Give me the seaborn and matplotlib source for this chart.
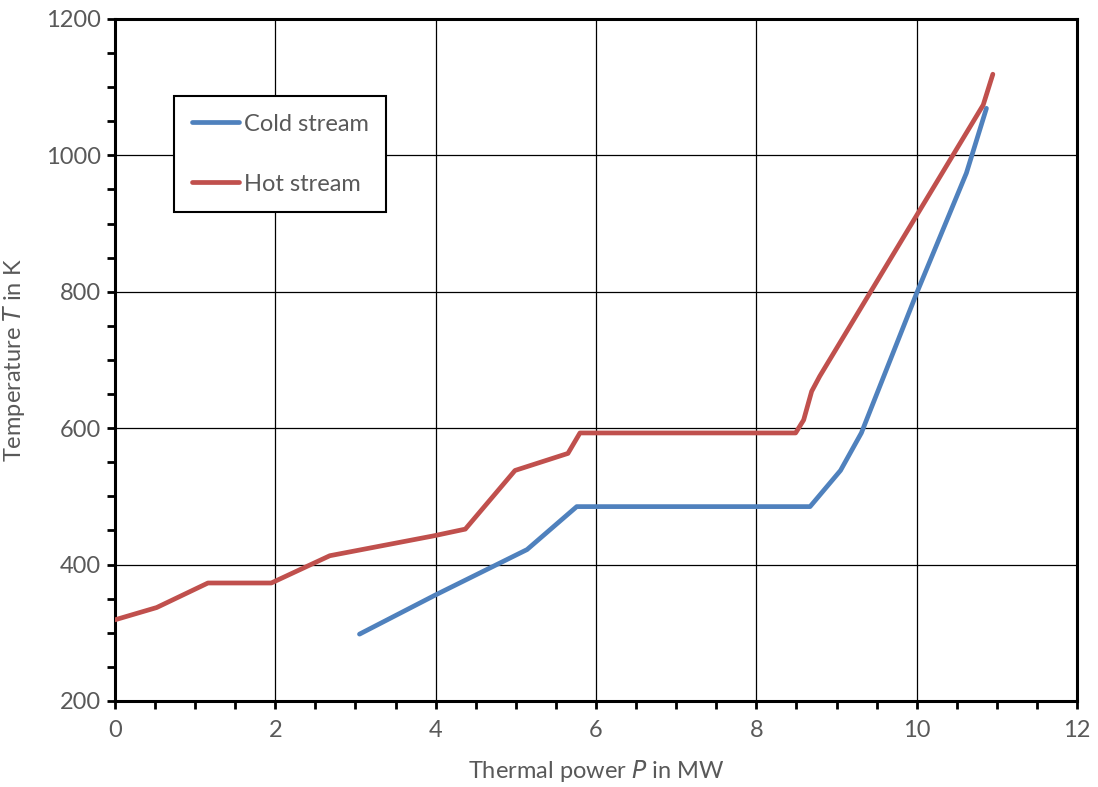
import pandas as pd
import seaborn as sns
import matplotlib.pyplot as plt
from matplotlib.ticker import MultipleLocator

# Cold stream (blue)
cold_p = [3.05, 3.99, 5.14, 5.76, 8.67, 9.05, 9.31, 10.0, 10.62, 10.87]
cold_t = [298, 355, 422, 485, 485, 538, 593, 798, 974, 1069]

# Hot stream (red)
hot_p = [0.0, 0.52, 1.16, 1.95, 2.68, 3.97, 4.37, 4.99, 5.65, 5.80, 8.49, 8.59, 8.69, 8.79, 10.83, 10.95]
hot_t = [319, 337, 373, 373, 413, 442, 452, 538, 563, 593, 593, 612, 654, 676, 1074, 1119]

def display_plot():
    df = pd.concat([
        pd.DataFrame({"P": cold_p, "T": cold_t, "stream": "Cold stream"}),
        pd.DataFrame({"P": hot_p, "T": hot_t, "stream": "Hot stream"}),
    ], ignore_index=True)

    sns.set_style("white")
    plt.rcParams["font.family"] = ["Lato", "DejaVu Sans"]
    grey = "#595959"

    fig = plt.figure(figsize=(10.98, 7.87), dpi=100)
    ax = fig.add_axes([0.1047, 0.1093, 0.8762, 0.8666])

    sns.lineplot(data=df, x="P", y="T", hue="stream", sort=False, estimator=None,
                 palette={"Cold stream": "#4F81BD", "Hot stream": "#C0504D"},
                 linewidth=3.4, ax=ax, zorder=3)

    ax.set_xlim(0, 12)
    ax.set_ylim(200, 1200)
    ax.xaxis.set_major_locator(MultipleLocator(2))
    ax.xaxis.set_minor_locator(MultipleLocator(0.5))
    ax.yaxis.set_major_locator(MultipleLocator(200))
    ax.yaxis.set_minor_locator(MultipleLocator(50))
    ax.grid(True, which="major", color="black", linewidth=0.9)

    for s in ax.spines.values():
        s.set_visible(True)
        s.set_color("black")
        s.set_linewidth(2.2)

    ax.tick_params(which="both", direction="out", length=6, width=2, color="black",
                   bottom=True, left=True, labelsize=17, labelcolor=grey)
    ax.tick_params(axis="x", pad=8)
    ax.tick_params(axis="y", pad=4)

    ax.set_xlabel("Thermal power $\\it{P}$ in MW", fontsize=17, color=grey, labelpad=12)
    ax.set_ylabel("Temperature $\\it{T}$ in K", fontsize=17, color=grey, labelpad=14)

    leg = ax.legend(loc="upper left", bbox_to_anchor=(0.0613, 0.887), borderaxespad=0,
                    fontsize=17, fancybox=False, framealpha=1, edgecolor="black",
                    handlelength=2.0, handletextpad=0.2, labelspacing=1.65,
                    borderpad=0.75)
    leg.get_frame().set_linewidth(1.5)
    for t in leg.get_texts():
        t.set_color(grey)

    plt.savefig("out.png", dpi=100)

if __name__ == '__main__':
    display_plot()
